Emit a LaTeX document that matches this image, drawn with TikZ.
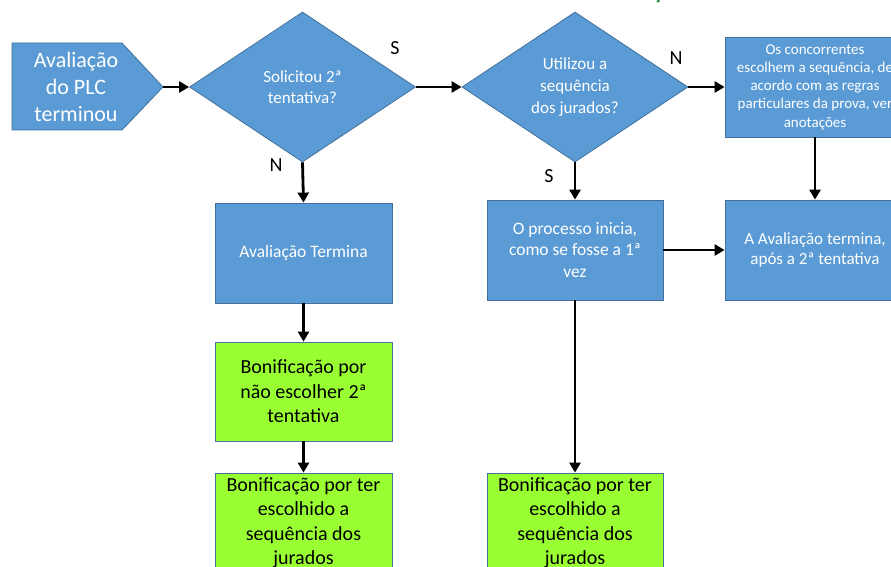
\documentclass[tikz,border=0pt]{standalone}
\usepackage{fontspec}
\setmainfont{Carlito}
\usetikzlibrary{arrows.meta,shapes.geometric}
\definecolor{caixaazul}{HTML}{5B9BD5}
\definecolor{bordaazul}{HTML}{41719C}
\definecolor{caixaverde}{HTML}{99FF33}
\definecolor{tituloverde}{HTML}{1E8A3C}
\tikzset{
	azul/.style={draw=bordaazul, fill=caixaazul, line width=0.8pt, text=white, align=center, minimum width=177pt, minimum height=100pt, inner sep=1pt, font=\fontsize{17.5}{21.5}\selectfont},
	verde/.style={draw=bordaazul, fill=caixaverde, line width=0.8pt, text=black, align=center, minimum width=177pt, minimum height=100pt, inner sep=1pt, font=\fontsize{20}{24.5}\selectfont},
	decisao/.style={diamond, draw=bordaazul, fill=caixaazul, line width=0.8pt, text=white, align=center, minimum width=226pt, minimum height=150pt, aspect=1.5, inner sep=0pt, font=\fontsize{17}{21.6}\selectfont},
	rotulo/.style={text=black, font=\fontsize{20}{22}\selectfont, inner sep=0pt},
	seta/.style={line width=2.8pt, -{Triangle[length=10pt,width=11pt]}}
}

\begin{document}
\begin{tikzpicture}[x=1pt, y=1pt]
			%%%%% START %%%%%
			\useasboundingbox (0,0) rectangle (891,-567);
			\fill[white] (0,0) rectangle (891,-567);
			\clip (0,0) rectangle (891,-567);
			
			% titulo cortado
			\node[anchor=base, text=tituloverde, font=\bfseries\fontsize{20}{22}\selectfont, inner sep=0pt] (titulo) at (657.5,0) {ç};
			
			% inicio
			\coordinate (ponta) at (163,-87);
			\draw[draw=bordaazul, fill=caixaazul, line width=0.8pt] (12,-43) -- (122,-43) -- (ponta) -- (122,-130) -- (12,-130) -- cycle;
			\node[text=white, align=center, font=\fontsize{22}{26.7}\selectfont] (inicio) at (76,-87) {Avaliação\\do PLC\\terminou};
			
			% decisoes
			\node[decisao] (solicitou) at (302.5,-87) {Solicitou 2ª\\tentativa?};
			\node[decisao] (utilizou) at (575,-87) {Utilizou a\\sequência\\dos jurados?};
			
			% caixas azuis
			\node[azul, minimum width=180pt, font=\fontsize{15}{18.3}\selectfont] (concorrentes) at (815,-87) {Os concorrentes\\escolhem a sequência, de\\acordo com as regras\\particulares da prova, ver\\anotações};
			\node[azul, minimum width=180pt, font=\fontsize{17}{20.5}\selectfont] (apos) at (815,-250) {A Avaliação termina,\\após a 2ª tentativa};
			\node[azul, minimum width=176pt] (processo) at (575,-250) {O processo inicia,\\como se fosse a 1ª\\vez};
			\node[azul] (termina) at (303.5,-253) {Avaliação Termina};
			
			% caixas verdes
			\node[verde, minimum height=99pt] (naoescolher) at (303.5,-391.5) {Bonificação por\\não escolher 2ª\\tentativa};
			\node[verde] (escolhido) at (303.5,-523) {Bonificação por ter\\escolhido a\\sequência dos\\jurados};
			\node[verde, minimum width=176pt] (escolhidob) at (575,-523) {Bonificação por ter\\escolhido a\\sequência dos\\jurados};
			
			% setas
			\draw[seta] (ponta) -- (solicitou.west);
			\draw[seta] (solicitou.east) -- (utilizou.west);
			\draw[seta] (utilizou.east) -- (concorrentes.west);
			\draw[seta] (concorrentes.south) -- (apos.north);
			\draw[seta] (solicitou.south) -- (termina.north);
			\draw[seta] (termina.south) -- (naoescolher.north);
			\draw[seta] (naoescolher.south) -- (escolhido.north);
			\draw[seta] (utilizou.south) -- (processo.north);
			\draw[seta] (processo.east) -- (apos.west);
			\draw[seta] (processo.south) -- (escolhidob.north);
			
			% rotulos S / N
			\node[rotulo] (solS) at (395,-48) {S};
			\node[rotulo] (solN) at (276,-165) {N};
			\node[rotulo] (utiN) at (676,-58) {N};
			\node[rotulo] (utiS) at (549,-176) {S};
			%%%%% END %%%%%
		\end{tikzpicture}
\end{document}
